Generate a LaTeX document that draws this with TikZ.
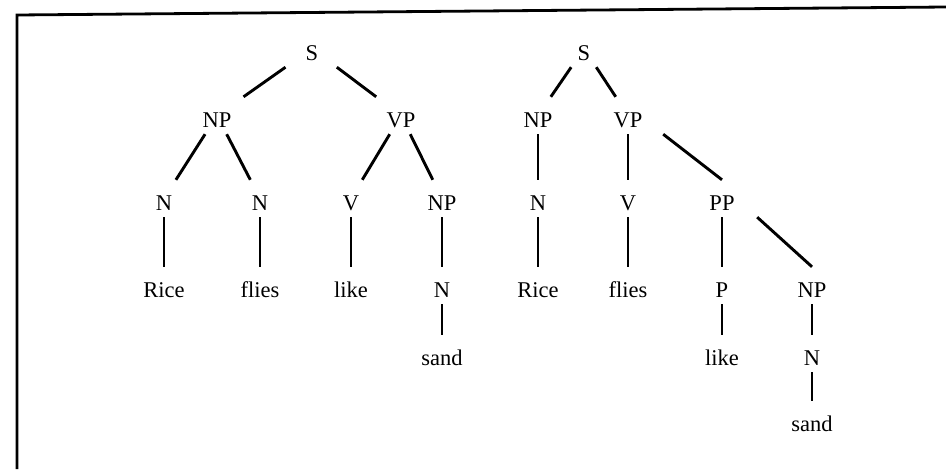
\documentclass[tikz,border=0pt]{standalone}
\usepackage{fontspec}
\setmainfont{Liberation Serif}
\usepackage{tikz}
\tikzset{cat/.style={rectangle, anchor=base, inner xsep=0pt, inner ysep=0pt, text height=30pt, text depth=7pt, minimum width=70pt, text centered, font=\fontsize{22.5pt}{27pt}\selectfont},
branch/.style={line width=2.9pt}}

\begin{document}
\begin{tikzpicture}[x=1pt, y=-1pt]
\useasboundingbox (0,0) rectangle (946,469);
% box edge
\draw [line width=2.8pt] (17,469) -- (17,15) -- (946,7);

% first tree
\node (s1) [cat] at (312,60) {S};
\node (np1) [cat] at (217,127) {NP};
\node (vp1) [cat] at (401,127) {VP};
\node (n1) [cat] at (164,210) {N};
\node (n2) [cat] at (260,210) {N};
\node (v1) [cat] at (351,210) {V};
\node (np2) [cat] at (442,210) {NP};
\node (w1) [cat] at (164,297) {Rice};
\node (w2) [cat] at (260,297) {flies};
\node (w3) [cat] at (351,297) {like};
\node (n3) [cat] at (442,297) {N};
\node (w4) [cat] at (442,365) {sand};
\draw [branch] (s1) -- (np1);
\draw [branch] (s1) -- (vp1);
\draw [branch] (np1) -- (n1);
\draw [branch] (np1) -- (n2);
\draw [branch] (vp1) -- (v1);
\draw [branch] (vp1) -- (np2);
\draw [branch] (n1) -- (w1);
\draw [branch] (n2) -- (w2);
\draw [branch] (v1) -- (w3);
\draw [branch] (np2) -- (n3);
\draw [branch] (n3) -- (w4);

% second tree
\node (s2) [cat] at (584,60) {S};
\node (np3) [cat] at (538,127) {NP};
\node (vp2) [cat] at (628,127) {VP};
\node (n4) [cat] at (538,210) {N};
\node (v2) [cat] at (628,210) {V};
\node (pp) [cat] at (722,210) {PP};
\node (w5) [cat] at (538,297) {Rice};
\node (w6) [cat] at (628,297) {flies};
\node (p) [cat] at (722,297) {P};
\node (np4) [cat] at (812,297) {NP};
\node (w7) [cat] at (722,365) {like};
\node (n5) [cat] at (812,365) {N};
\node (w8) [cat] at (812,431) {sand};
\draw [branch] (s2) -- (np3);
\draw [branch] (s2) -- (vp2);
\draw [branch] (np3) -- (n4);
\draw [branch] (vp2) -- (v2);
\draw [branch] (vp2.south east) -- (pp.north);
\draw [branch] (n4) -- (w5);
\draw [branch] (v2) -- (w6);
\draw [branch] (pp) -- (p);
\draw [branch] (pp.south east) -- (np4.north);
\draw [branch] (p) -- (w7);
\draw [branch] (np4) -- (n5);
\draw [branch] (n5) -- (w8);
\end{tikzpicture}
\end{document}
